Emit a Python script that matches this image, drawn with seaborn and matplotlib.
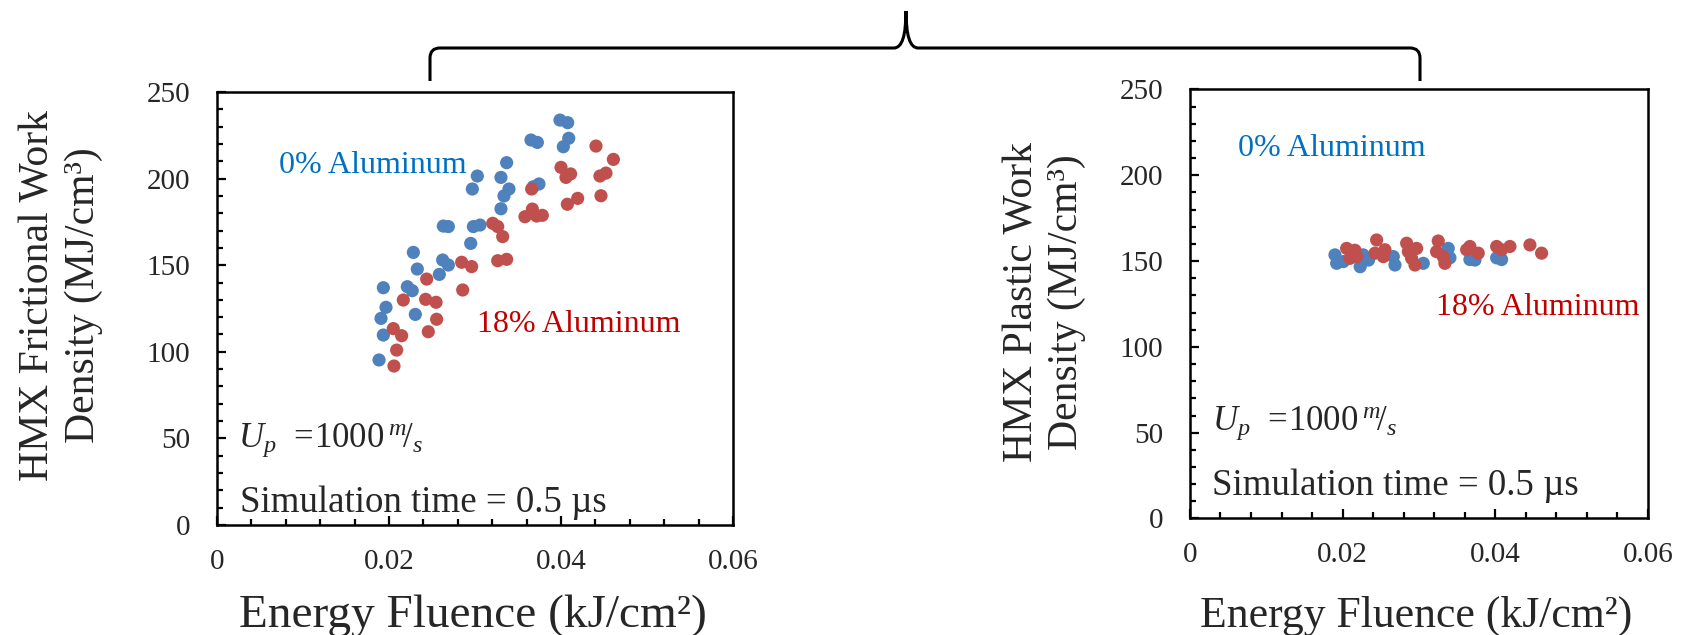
import numpy as np
import pandas as pd
import matplotlib
matplotlib.use("Agg")
import matplotlib.pyplot as plt
from matplotlib.path import Path
from matplotlib.patches import PathPatch
from matplotlib.ticker import MultipleLocator, FixedLocator
import seaborn as sns

# ---- frictional work density vs energy fluence ----
fric_fluence_0 = [0.03988, 0.04078, 0.0409, 0.04027, 0.03651, 0.03725, 0.03368, 0.03027,
                  0.02969, 0.03302, 0.03395, 0.03337, 0.03302, 0.03678, 0.03744, 0.02632,
                  0.0269, 0.02981, 0.03058, 0.0295, 0.02283, 0.02329, 0.02624, 0.0269,
                  0.02585, 0.01934, 0.02213, 0.0227, 0.01965, 0.01907, 0.02306, 0.01934, 0.01884]
fric_work_0 = [233.8, 232.3, 223.3, 218.4, 222.3, 220.9, 209.2, 201.5,
               194.0, 200.7, 194.0, 190.0, 182.6, 195.3, 196.9, 172.6,
               172.3, 172.3, 173.2, 162.6, 157.4, 147.8, 153.0, 150.1,
               144.7, 137.0, 137.6, 135.3, 125.7, 119.3, 121.6, 109.7, 95.3]
fric_fluence_18 = [0.04407, 0.04609, 0.04, 0.04058, 0.04112, 0.04453, 0.04523, 0.03659,
                   0.04074, 0.04194, 0.04465, 0.03581, 0.03667, 0.03717, 0.03783, 0.03206,
                   0.03264, 0.03322, 0.03264, 0.03368, 0.02845, 0.02961, 0.02857, 0.02438,
                   0.02166, 0.02426, 0.02547, 0.02554, 0.02457, 0.0205, 0.02147, 0.02089, 0.02058]
fric_work_18 = [218.8, 211.1, 206.5, 200.7, 202.7, 201.5, 203.2, 194.0,
                185.2, 188.6, 190.1, 178.0, 182.4, 178.4, 178.8, 174.2,
                172.3, 166.5, 152.6, 153.4, 151.7, 149.2, 135.7, 142.0,
                129.9, 130.3, 128.6, 118.8, 111.6, 113.4, 109.3, 101.0, 91.8]

# ---- plastic work density vs energy fluence ----
plas_fluence_0 = [0.019, 0.01922, 0.0201, 0.0227, 0.0223, 0.0234, 0.02664, 0.02686,
                  0.03057, 0.03384, 0.03406, 0.03668, 0.03734, 0.04018, 0.04083]
plas_work_0 = [153.6, 148.7, 149.7, 153.6, 146.7, 150.6, 152.6, 147.7,
               148.7, 157.4, 151.9, 150.9, 150.6, 151.9, 150.9]
plas_fluence_18 = [0.02053, 0.02096, 0.02184, 0.02162, 0.02446, 0.02424, 0.02555, 0.02533,
                   0.02839, 0.02861, 0.0297, 0.02948, 0.02904, 0.03253, 0.03231, 0.0334,
                   0.03318, 0.03625, 0.03668, 0.03777, 0.04018, 0.04083, 0.04192, 0.04454, 0.04607]
plas_work_18 = [157.4, 151.6, 152.6, 156.3, 162.3, 154.6, 156.6, 152.6,
                160.4, 155.5, 157.4, 147.7, 151.6, 161.7, 155.5, 148.7,
                152.6, 156.6, 158.5, 154.6, 158.5, 156.6, 158.5, 159.4, 154.6]

series_names = ["0% Aluminum", "18% Aluminum"]
marker_colors = {"0% Aluminum": "#4F81BD", "18% Aluminum": "#C0504D"}
text_colors = {"0% Aluminum": "#0070C0", "18% Aluminum": "#C00000"}

x_ticks = [0, 0.02, 0.04, 0.06]
x_tick_labels = ["0", "0.02", "0.04", "0.06"]
y_ticks = [0, 50, 100, 150, 200, 250]

sns.set_theme(style="ticks")
plt.rcParams["font.family"] = ["Liberation Serif", "DejaVu Serif"]
plt.rcParams["mathtext.fontset"] = "custom"
plt.rcParams["mathtext.rm"] = "Liberation Serif"
plt.rcParams["mathtext.it"] = "Liberation Serif:italic"


def frame(xs0, ys0, xs18, ys18):
    return pd.concat([
        pd.DataFrame({"fluence": xs0, "work": ys0, "series": series_names[0]}),
        pd.DataFrame({"fluence": xs18, "work": ys18, "series": series_names[1]}),
    ], ignore_index=True)


fig = plt.figure(figsize=(16.85, 6.35), dpi=100)
ax1 = fig.add_axes([0.1288, 0.1732, 0.3062, 0.6819])
ax2 = fig.add_axes([0.7062, 0.1835, 0.2718, 0.6756])


def style_axes(ax, ylabel, ylab_xy, xlab_xy, ypad, xpad, xlab_size):
    ax.set_xlim(0, 0.06)
    ax.set_ylim(0, 250)
    ax.xaxis.set_major_locator(FixedLocator(x_ticks))
    ax.set_xticklabels(x_tick_labels)
    ax.xaxis.set_minor_locator(MultipleLocator(0.004))
    ax.yaxis.set_major_locator(FixedLocator(y_ticks))
    ax.yaxis.set_minor_locator(MultipleLocator(10))
    ax.tick_params(which="both", direction="in", top=False, right=False,
                   width=1.6, color="black", labelsize=21)
    ax.tick_params(which="major", length=6.5)
    ax.tick_params(which="minor", length=4.5)
    ax.tick_params(axis="y", which="both", pad=ypad)
    ax.tick_params(axis="x", which="both", pad=xpad)
    for s in ax.spines.values():
        s.set_visible(True)
        s.set_linewidth(1.8)
        s.set_color("black")
    ax.set_xlabel("Energy Fluence (kJ/cm²)", fontsize=xlab_size)
    ax.xaxis.label.set_verticalalignment("center")
    ax.xaxis.set_label_coords(*xlab_xy)
    ax.set_ylabel(ylabel, fontsize=30, linespacing=1.22)
    ax.yaxis.label.set_verticalalignment("center")
    ax.yaxis.set_label_coords(*ylab_xy)
    ax.grid(False)


def draw_points(ax, df):
    sns.scatterplot(data=df, x="fluence", y="work", hue="series",
                    palette=marker_colors, s=90, linewidth=0, edgecolor="none",
                    alpha=1.0, legend=False, ax=ax)


draw_points(ax1, frame(fric_fluence_0, fric_work_0, fric_fluence_18, fric_work_18))
draw_points(ax2, frame(plas_fluence_0, plas_work_0, plas_fluence_18, plas_work_18))

style_axes(ax1, "HMX Frictional Work\nDensity (MJ/cm³)", (-0.302, 0.531), (0.496, -0.21), 19.5, 17, 34)
style_axes(ax2, "HMX Plastic Work\nDensity (MJ/cm³)", (-0.3175, 0.505), (0.493, -0.227), 19, 17, 31.5)

speed_text = r"$U_{p}\ \,=\!1000\,{}^{m}\!/_{s}$"
sim_text = "Simulation time = 0.5 µs"

# annotations, frictional panel
ax1.text(0.120, 0.8137, series_names[0], color=text_colors[series_names[0]],
         fontsize=23, transform=ax1.transAxes, va="baseline")
ax1.text(0.503, 0.4464, series_names[1], color=text_colors[series_names[1]],
         fontsize=23, transform=ax1.transAxes, va="baseline")
ax1.text(0.040, 0.181, speed_text, fontsize=25, transform=ax1.transAxes, va="baseline")
ax1.text(0.0446, 0.0307, sim_text, fontsize=26.6, transform=ax1.transAxes, va="baseline")

# annotations, plastic panel
ax2.text(0.1048, 0.845, series_names[0], color=text_colors[series_names[0]],
         fontsize=23, transform=ax2.transAxes, va="baseline")
ax2.text(0.537, 0.4744, series_names[1], color=text_colors[series_names[1]],
         fontsize=23, transform=ax2.transAxes, va="baseline")
ax2.text(0.048, 0.2063, speed_text, fontsize=25, transform=ax2.transAxes, va="baseline")
ax2.text(0.048, 0.0548, sim_text, fontsize=26.6, transform=ax2.transAxes, va="baseline")

# curly brace spanning both panels (figure pixel layout -> figure fraction)
W, H = 1685.0, 635.0


def fp(x, y):
    return (x / W, 1 - y / H)


brace_pts = [
    (fp(430, 81), Path.MOVETO),
    (fp(430, 58), Path.LINETO),
    (fp(430, 48), Path.CURVE3), (fp(440, 48), Path.CURVE3),
    (fp(894, 48), Path.LINETO),
    (fp(906, 48), Path.CURVE3), (fp(906, 11), Path.CURVE3),
    (fp(906, 48), Path.CURVE3), (fp(918, 48), Path.CURVE3),
    (fp(1410, 48), Path.LINETO),
    (fp(1420, 48), Path.CURVE3), (fp(1420, 58), Path.CURVE3),
    (fp(1420, 81), Path.LINETO),
]
verts, codes = zip(*brace_pts)
fig.patches.append(PathPatch(Path(verts, codes), transform=fig.transFigure,
                             facecolor="none", edgecolor="black", linewidth=2.2))

fig.savefig("out.png", dpi=100)
